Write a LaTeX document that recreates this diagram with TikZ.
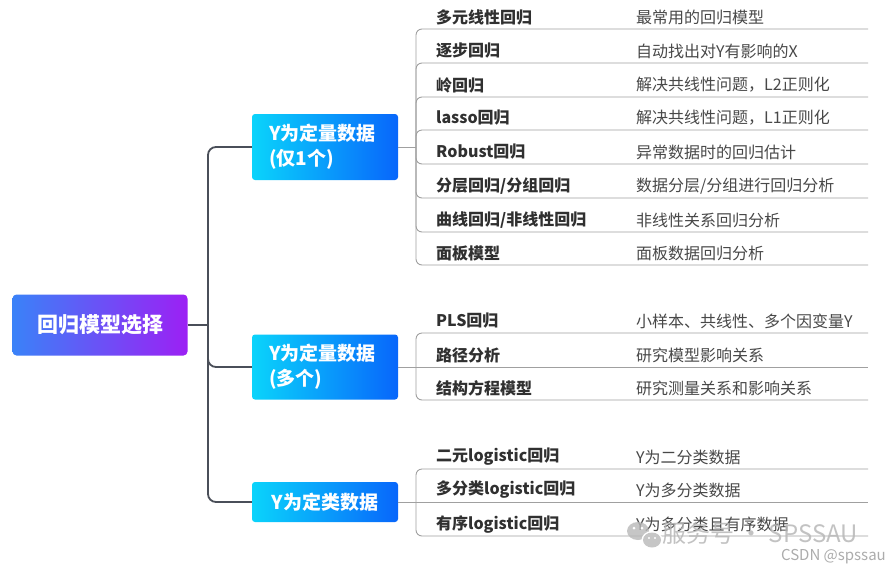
\documentclass[tikz,border=0pt]{standalone}
\usepackage{fontspec}
\setmainfont{Noto Sans CJK SC}
\definecolor{spinegray}{HTML}{4A4F59}
\definecolor{linegray}{HTML}{A0A0A0}
\definecolor{itemtext}{HTML}{303030}
\definecolor{desctext}{HTML}{484848}
\definecolor{rootleft}{HTML}{3A82F8}
\definecolor{rootright}{HTML}{9C20F4}
\definecolor{qleft}{HTML}{0AD4FB}
\definecolor{qright}{HTML}{0866FB}
\definecolor{wmgray}{HTML}{B8B8B8}
\tikzset{
  rootbox/.style={rounded corners=4pt, left color=rootleft, right color=rootright, draw=none,
    text=white, font=\fontsize{21}{25}\selectfont\bfseries, minimum width=175pt, minimum height=61pt},
  qbox/.style={rounded corners=3pt, left color=qleft, right color=qright, draw=none, text=white,
    font=\fontsize{19}{25}\selectfont\bfseries, minimum width=146pt, minimum height=40pt},
  item/.style={anchor=west, inner sep=0pt, text=itemtext, font=\fontsize{16}{18}\selectfont\bfseries},
  desc/.style={anchor=west, inner sep=0pt, text=desctext, font=\fontsize{16}{18}\selectfont},
  spine/.style={draw=spinegray, line width=1.8pt, rounded corners=8pt},
  twig/.style={draw=linegray, line width=0.9pt},
  rowline/.style={draw=linegray, line width=0.9pt, rounded corners=6pt}
}
\begin{document}
\begin{tikzpicture}[x=1pt, y=-1pt]
        \useasboundingbox[fill=white] (0,0) rectangle (888,574);
        %radice
        \node (root) at (100,325) [rootbox] {回归模型选择};
        \coordinate (hub) at (208,325);
        %rami principali
        \node (q1) at (325,147) [qbox, minimum height=66pt, align=left, text width=112pt, inner xsep=17pt] {Y为定量数据\\(仅1个)};
        \node (q2) at (325,367) [qbox, minimum height=65pt, align=left, text width=112pt, inner xsep=17pt] {Y为定量数据\\(多个)};
        \node (q3) at (325,502) [qbox] {Y为定类数据};
        \draw[spine, rounded corners=0pt] (root.east) -- (hub);
        \draw[spine] (hub) |- (q1.west);
        \draw[spine] (hub) |- (q2.west);
        \draw[spine] (hub) |- (q3.west);
        %gruppo 1
        \coordinate (b1) at (416,147);
        \draw[twig] (q1.east) -- (b1);
        \node (i11) at (436,17) [item] {多元线性回归};   \node (d11) at (636,17) [desc] {最常用的回归模型};
        \node (i12) at (436,51) [item] {逐步回归};       \node (d12) at (636,51) [desc] {自动找出对Y有影响的X};
        \node (i13) at (436,85) [item] {岭回归};         \node (d13) at (636,85) [desc] {解决共线性问题，L2正则化};
        \node (i14) at (436,118) [item] {lasso回归};     \node (d14) at (636,118) [desc] {解决共线性问题，L1正则化};
        \node (i15) at (436,152) [item] {Robust回归};    \node (d15) at (636,152) [desc] {异常数据时的回归估计};
        \node (i16) at (436,186) [item] {分层回归/分组回归}; \node (d16) at (636,186) [desc] {数据分层/分组进行回归分析};
        \node (i17) at (436,220) [item] {曲线回归/非线性回归}; \node (d17) at (636,220) [desc] {非线性关系回归分析};
        \node (i18) at (436,253) [item] {面板模型};       \node (d18) at (636,253) [desc] {面板数据回归分析};
        \draw[rowline] (b1) |- (868,29);
        \draw[rowline] (b1) |- (868,63);
        \draw[rowline] (b1) |- (868,97);
        \draw[rowline] (b1) |- (868,130);
        \draw[rowline] (b1) |- (868,164);
        \draw[rowline] (b1) |- (868,198);
        \draw[rowline] (b1) |- (868,232);
        \draw[rowline] (b1) |- (868,265);
        %gruppo 2
        \coordinate (b2) at (416,367);
        \draw[twig] (q2.east) -- (b2);
        \node (i21) at (436,321) [item] {PLS回归};       \node (d21) at (636,321) [desc] {小样本、共线性、多个因变量Y};
        \node (i22) at (436,355) [item] {路径分析};       \node (d22) at (636,355) [desc] {研究模型影响关系};
        \node (i23) at (436,388) [item] {结构方程模型};   \node (d23) at (636,388) [desc] {研究测量关系和影响关系};
        \draw[rowline] (b2) |- (868,333);
        \draw[rowline] (b2) -- (868,367);
        \draw[rowline] (b2) |- (868,400);
        %gruppo 3
        \coordinate (b3) at (416,502);
        \draw[twig] (q3.east) -- (b3);
        \node (i31) at (436,457) [item] {二元logistic回归};   \node (d31) at (636,457) [desc] {Y为二分类数据};
        \node (i32) at (436,490) [item] {多分类logistic回归}; \node (d32) at (636,490) [desc] {Y为多分类数据};
        \node (i33) at (436,524) [item] {有序logistic回归};   \node (d33) at (636,524) [desc] {Y为多分类且有序数据};
        \draw[rowline] (b3) |- (868,469);
        \draw[rowline] (b3) -- (868,502);
        \draw[rowline] (b3) |- (868,536);
        %filigrana
        \fill[wmgray, opacity=0.8] (638,531) ellipse (11pt and 9pt);
        \fill[white] (652,540) ellipse (10.5pt and 9pt);
        \fill[wmgray, opacity=0.8] (652,540) ellipse (9pt and 7.5pt);
        \fill[white] (634,528) circle (1.5pt) (642,528) circle (1.5pt) (649,538) circle (1.2pt) (655,538) circle (1.2pt);
        \node (wm) at (662,533) [anchor=west, inner sep=0pt, text=wmgray, opacity=0.85, font=\fontsize{24}{26}\selectfont] {服务号 · SPSSAU};
        \node (csdn) at (886,557) [anchor=east, inner sep=0pt, text=gray!65, font=\fontsize{15}{18}\selectfont] {CSDN @spssau};
    \end{tikzpicture}
\end{document}
